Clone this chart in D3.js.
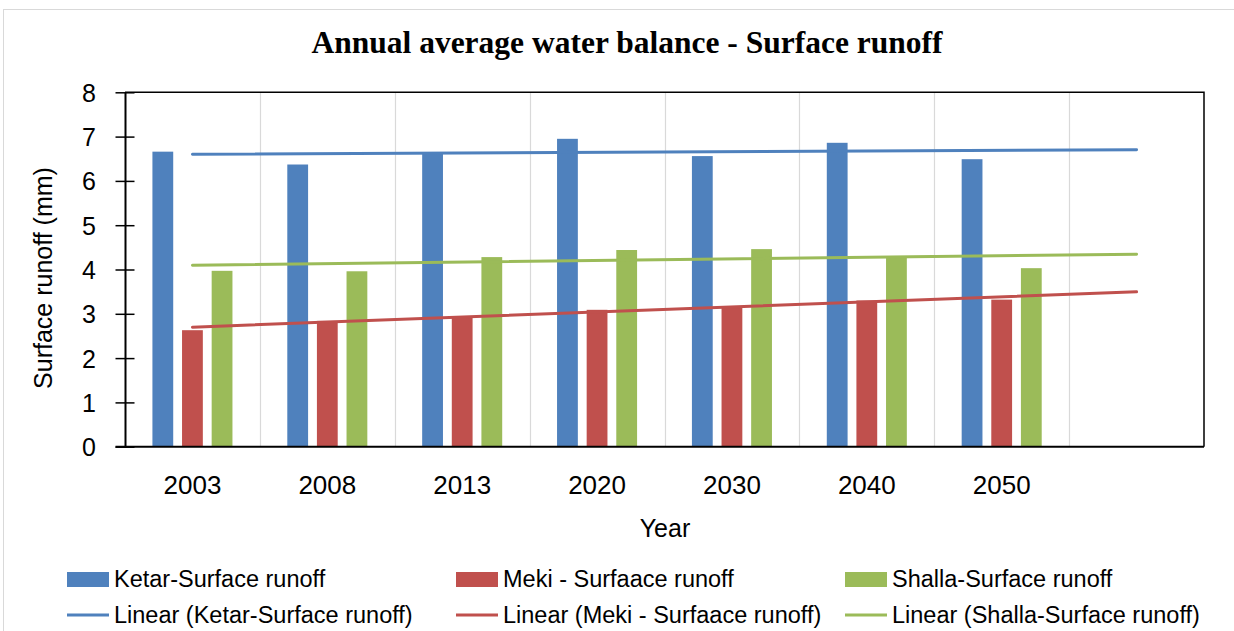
<!DOCTYPE html>
<html>
<head>
<meta charset="utf-8">
<script src="https://cdn.jsdelivr.net/npm/d3@7"></script>
<style>
  html, body { margin: 0; padding: 0; background: #fff; }
  svg { display: block; }
</style>
</head>
<body>
<svg id="chart" width="1234" height="631"></svg>
<script>
// Year categories on the horizontal axis (one extra empty slot follows them)
const years = ["2003", "2008", "2013", "2020", "2030", "2040", "2050"];

// Annual average surface runoff (mm) per basin
const ketar  = [6.66, 6.37, 6.63, 6.95, 6.56, 6.86, 6.49];
const meki   = [2.63, 2.84, 2.95, 3.09, 3.15, 3.30, 3.32];
const shalla = [3.97, 3.96, 4.28, 4.44, 4.46, 4.28, 4.03];

const seriesNames = ["Ketar-Surface runoff", "Meki - Surfaace runoff", "Shalla-Surface runoff"];
const seriesColors = ["#4F81BD", "#C0504D", "#9BBB59"];
const yTicks = [0, 1, 2, 3, 4, 5, 6, 7, 8];

const seriesData = [ketar, meki, shalla];

const svg = d3.select("#chart");
const font = "'Liberation Sans', Arial, sans-serif";

// outer chart frame
svg.append("rect")
  .attr("x", 3.5).attr("y", 9.5)
  .attr("width", 1240).attr("height", 640)
  .attr("fill", "#fff").attr("stroke", "#d9d9d9").attr("stroke-width", 1);

const plot = { left: 125, right: 1204, top: 92.3, bottom: 446.7 };

const slots = years.concat([" "]);
const x = d3.scaleBand().domain(slots).range([plot.left, plot.right]).padding(0);
const bw = x.bandwidth();
const inner = d3.scaleBand().domain(d3.range(3))
  .range([bw * 0.2033, bw * 0.7967]).paddingInner(0.298).paddingOuter(0);
const y = d3.scaleLinear().domain([0, 8]).range([plot.bottom, plot.top]);

// vertical gridlines at category boundaries
const g = svg.append("g");
g.selectAll("line.grid")
  .data(slots.slice(1))
  .join("line")
  .attr("class", "grid")
  .attr("x1", d => Math.round(x(d)) + 0.5).attr("x2", d => Math.round(x(d)) + 0.5)
  .attr("y1", plot.top).attr("y2", plot.bottom)
  .attr("stroke", "#d9d9d9").attr("stroke-width", 1.2);

// bars
seriesData.forEach((vals, si) => {
  g.selectAll("rect.s" + si)
    .data(vals)
    .join("rect")
    .attr("class", "s" + si)
    .attr("x", (d, i) => x(years[i]) + inner(si))
    .attr("width", inner.bandwidth())
    .attr("y", d => y(d))
    .attr("height", d => y(0) - y(d))
    .attr("fill", seriesColors[si]);
});

// linear trendlines (least squares on category index), projected one period forward
const idx = years.map((_, i) => i + 1);
seriesData.forEach((vals, si) => {
  const mx = d3.mean(idx), my = d3.mean(vals);
  const slope = d3.sum(idx, (v, i) => (v - mx) * (vals[i] - my)) / d3.sum(idx, v => (v - mx) ** 2);
  const icpt = my - slope * mx;
  const pts = [1, slots.length].map(k => [x(slots[k - 1]) + bw / 2, y(icpt + slope * k)]);
  g.append("path")
    .attr("d", d3.line()(pts))
    .attr("fill", "none")
    .attr("stroke", seriesColors[si])
    .attr("stroke-width", 3)
    .attr("stroke-linecap", "round");
});

// plot frame (top and right edges)
svg.append("path")
  .attr("d", `M${plot.left},${plot.top}H${plot.right}V${plot.bottom}`)
  .attr("fill", "none").attr("stroke", "#000").attr("stroke-width", 1.5);

// y axis with crossing ticks
const yAxis = d3.axisLeft(y).tickValues(yTicks).tickSize(0).tickPadding(0).tickFormat(d3.format("d"));
const ya = svg.append("g").attr("transform", `translate(${plot.left},0)`).call(yAxis);
ya.select(".domain").attr("stroke", "#000").attr("stroke-width", 2);
ya.selectAll(".tick line").attr("x1", -9.5).attr("x2", 9.5).attr("stroke", "#000").attr("stroke-width", 1.5);
ya.selectAll(".tick text")
  .attr("x", -29).attr("dy", "0.36em")
  .attr("font-family", font).attr("font-size", 25).attr("fill", "#000");

// x axis
const xAxis = d3.axisBottom(x).tickSize(0).tickPadding(0).tickFormat(d => d.trim());
const xa = svg.append("g").attr("transform", `translate(0,${plot.bottom})`).call(xAxis);
xa.select(".domain").attr("d", `M${plot.left - 9.5},0H${plot.right}`).attr("stroke", "#000").attr("stroke-width", 2);
xa.selectAll(".tick text")
  .attr("y", 47).attr("dy", 0)
  .attr("font-family", font).attr("font-size", 26).attr("fill", "#000");

// titles
svg.append("text")
  .attr("x", 627).attr("y", 53)
  .attr("text-anchor", "middle")
  .attr("font-family", "'Liberation Serif', 'DejaVu Serif', serif")
  .attr("font-weight", "bold").attr("font-size", 31.5)
  .text("Annual average water balance - Surface runoff");

svg.append("text")
  .attr("x", 665).attr("y", 537)
  .attr("text-anchor", "middle")
  .attr("font-family", font).attr("font-size", 25)
  .text("Year");

svg.append("text")
  .attr("transform", "translate(52,278) rotate(-90)")
  .attr("text-anchor", "middle")
  .attr("font-family", font).attr("font-size", 25)
  .text("Surface runoff (mm)");

// legend
const legendX = [67, 456, 845];
const legend = svg.append("g");
seriesNames.forEach((name, i) => {
  legend.append("rect")
    .attr("x", legendX[i]).attr("y", 572)
    .attr("width", 42).attr("height", 15)
    .attr("fill", seriesColors[i]);
  legend.append("text")
    .attr("x", legendX[i] + 47).attr("y", 587)
    .attr("font-family", font).attr("font-size", 23.5)
    .text(name);
  legend.append("line")
    .attr("x1", legendX[i]).attr("x2", legendX[i] + 42)
    .attr("y1", 615).attr("y2", 615)
    .attr("stroke", seriesColors[i]).attr("stroke-width", 3);
  legend.append("text")
    .attr("x", legendX[i] + 47).attr("y", 623)
    .attr("font-family", font).attr("font-size", 23.5)
    .text("Linear (" + name + ")");
});
</script>
</body>
</html>
